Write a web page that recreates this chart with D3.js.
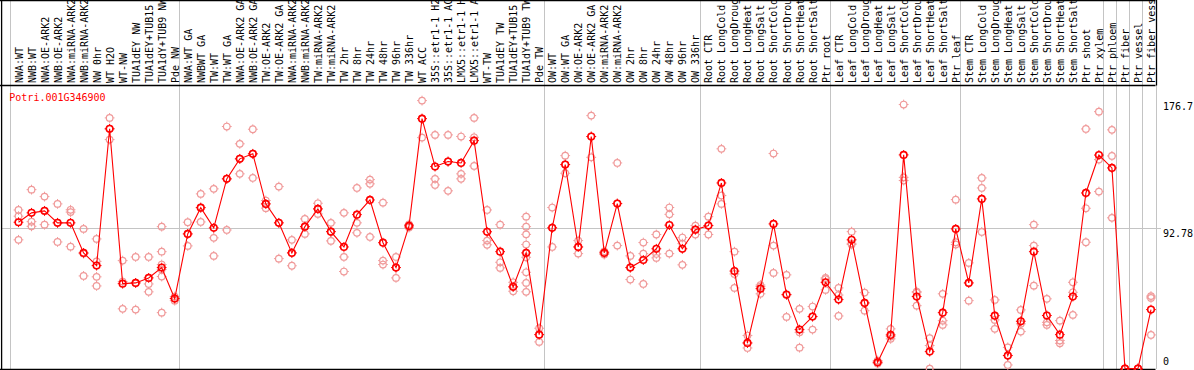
<!DOCTYPE html>
<html><head><meta charset="utf-8">
<script src="https://cdn.jsdelivr.net/npm/d3@7"></script>
<style>html,body{margin:0;padding:0;background:#fff;overflow:hidden}</style>
</head><body>
<svg id="chart" width="1194" height="370"></svg>
<script>
const geneId = "Potri.001G346900";

const categories = [
  "NWA:WT","NWB:WT","NWA:OE-ARK2","NWB:OE-ARK2","NWA:miRNA-ARK2","NWB:miRNA-ARK2","NW 0hr","WT H2O","WT-NW",
  "TUA1dEY NW","TUA1dEY+TUB15 NW","TUA1dY+TUB9 NW","Pde NW",
  "NWA:WT GA","NWBWT GA","TW:WT","TW:WT GA","NWA:OE-ARK2 GA","NWB:OE-ARK2 GA","TW:OE-ARK2","TW:OE-ARK2 GA",
  "NWA:miRNA-ARK2 GA","NWB:miRNA-ARK2 GA","TW:miRNA-ARK2","TW:miRNA-ARK2 GA",
  "TW 2hr","TW 8hr","TW 24hr","TW 48hr","TW 96hr","TW 336hr",
  "WT ACC","35S::etr1-1 H2O","35S::etr1-1 ACC","LMX5::etr1-1 H2O","LMX5::etr1-1 ACC",
  "WT-TW","TUA1dEY TW","TUA1dEY+TUB15 TW","TUA1dY+TUB9 TW","Pde TW",
  "OW:WT","OW:WT GA","OW:OE-ARK2","OW:OE-ARK2 GA","OW:miRNA-ARK2","OW:miRNA-ARK2 GA",
  "OW 2hr","OW 8hr","OW 24hr","OW 48hr","OW 96hr","OW 336hr",
  "Root CTR","Root LongCold","Root LongDrought","Root LongHeat","Root LongSalt","Root ShortCold","Root ShortDrought","Root ShortHeat","Root ShortSalt","Ptr root",
  "Leaf CTR","Leaf LongCold","Leaf LongDrought","Leaf LongHeat","Leaf LongSalt","Leaf ShortCold","Leaf ShortDrought","Leaf ShortHeat","Leaf ShortSalt","Ptr leaf",
  "Stem CTR","Stem LongCold","Stem LongDrought","Stem LongHeat","Stem LongSalt","Stem ShortCold","Stem ShortDrought","Stem ShortHeat","Stem ShortSalt",
  "Ptr shoot","Ptr xylem","Ptr phloem","Ptr fiber","Ptr vessel","Ptr fiber vessel"
];

const means = [
  96.5,102.7,104.0,96.1,96.1,76.3,67.9,158.1,56.0,
  56.5,59.8,66.6,46.2,
  88.8,106.1,92.8,125.1,138.3,141.6,108.6,96.1,
  76.3,93.6,105.3,90.3,
  80.2,101.5,111.2,83.0,66.6,94.1,
  164.8,133.2,136.5,135.6,150.3,
  90.2,77.1,53.9,76.3,22.4,
  92.8,134.5,80.2,153.0,76.3,108.8,
  66.6,71.6,79.0,94.6,79.0,91.6,
  94.3,122.4,64.3,16.9,52.7,95.4,48.8,25.7,34.3,56.9,
  45.5,84.9,43.3,4.2,22.2,140.9,47.5,11.2,36.9,92.1,
  56.5,111.9,34.9,8.6,31.2,77.1,35.0,22.4,47.5,
  115.8,140.8,132.3,0,0,38.9
];

const replicates = [
  [104.6,100.5,84.9],[118.0,96.9,93.8],[113.4,103.8,94.9],[108.6,96.1,83.5],[104.7,103.2,80.4],[92.1,75.8,61.1],[85.5,70.7,60.5,54.5],[165.3,158.1,151.0],[71.2,57.4,39.4],
  [73.6,56.5,38.9],[73.6,55.8,50.6],[93.6,77.1,68.6,65.3,60.7,36.9],[47.5,46.2,44.8],
  [96.5,88.8,80.9],[115.2,106.2,96.7],[118.5,86.2,74.3],[159.6,125.1,91.4],[148.2,138.3,128.4],[157.8,141.6,125.7],[110.8,108.6,105.8],[120.0,96.1,72.5],
  [84.9,76.3,67.8],[98.7,93.6,88.8],[109.0,105.3,102.0],[96.1,90.3,84.2],
  [102.7,73.6,64.0],[119.1,96.1,89.5],[124.6,121.8,86.8],[109.4,71.2,68.6],[73.6,66.6,59.8],[95.0,94.1,93.0],
  [176.7,164.8,152.3],[154.1,125.1,121.1],[154.1,136.5,117.2],[153.0,128.4,125.1],[165.3,152.5,133.6],
  [104.6,84.4,81.6],[94.9,70.1,66.4],[56.9,53.9,51.0],[100.2,93.6,88.5,81.8,73.4,63.5,56.5,50.6],[26.6,22.4,17.6],
  [106.2,92.8,80.2],[140.4,134.5,128.8],[84.4,80.2,75.8],[166.8,153.0,139.3],[77.3,76.3,75.2],[135.6,108.8,81.1],
  [74.3,66.6,58.7],[83.1,75.8,55.8],[88.4,75.6,73.0],[106.2,101.7,75.8],[86.4,82.4,68.4],[94.3,91.6,88.4],
  [100.2,94.3,88.4],[144.9,114.1,108.6],[77.1,62.4,53.2],[21.8,16.9,13.6],[55.1,54.1,49.3],[141.8,81.1,63.1],[61.8,48.6,34.1],[39.4,23.9,13.8],[40.9,34.3,25.7],[59.8,59.0,51.9],
  [53.2,48.5,34.7],[90.3,82.6,81.8],[50.1,43.3,38.2],[5.3,4.2,3.3],[26.2,21.1,19.6],[174.1,126.1,124.0],[50.8,50.1,41.5],[20.0,15.2,0],[49.3,31.6,28.8],[111.4,83.3,81.8],
  [69.7,56.5,44.8],[125.7,119.1,90.1],[45.3,32.1,26.2],[14.0,8.6,2.4],[38.7,29.5,24.4],[94.9,81.1,54.7],[46.0,30.5,28.8],[31.6,18.5,16.7],[56.9,50.3,35.4],
  [158.0,105.7,83.3],[169.4,137.8,116.7],[157.4,140.2,99.4],[0,0,0],[0,0,0],[47.8,46.6,22.2]
];

const axisTicks = [176.7, 92.78, 0];
const gridValues = [92.78];
const groupStarts = ["NWA:WT","NWA:WT GA","OW:WT","Root CTR","Leaf CTR","Stem CTR","Ptr phloem","Ptr fiber","Ptr vessel","Ptr fiber vessel"];

const MEAN_COLOR = "#ff0000";
const REP_COLOR = "#f09a9a";
const GRID_COLOR = "#c4c4c4";
const FONT = "'DejaVu Sans Mono', 'Liberation Mono', monospace";

const svg = d3.select("#chart");
svg.append("rect").attr("width",1194).attr("height",370).attr("fill","#fff");

const x = d3.scaleBand().domain(categories).range([10, 1155.5]).paddingInner(0).paddingOuter(0);
const px = c => x(c) + 8.5;
const y = d3.scaleLinear().domain([0, 176.7]).range([368.6, 100.6]);
const plotRight = x.range()[1];

// vertical group separators (full height, through labels)
const sepX = groupStarts.map(c => x(c)).concat([plotRight]);
svg.append("g").selectAll("line").data(sepX).join("line")
  .attr("x1", d => Math.round(d) + 0.5).attr("x2", d => Math.round(d) + 0.5)
  .attr("y1", 0).attr("y2", 369)
  .attr("stroke", GRID_COLOR).attr("stroke-width", 1);

// horizontal grid line
svg.append("g").selectAll("line").data(gridValues).join("line")
  .attr("x1", 2).attr("x2", 1161)
  .attr("y1", d => Math.round(y(d)) + 0.5).attr("y2", d => Math.round(y(d)) + 0.5)
  .attr("stroke", GRID_COLOR).attr("stroke-width", 1);

// black frame lines
const frame = svg.append("g").attr("stroke", "#000").attr("stroke-width", 1.3);
frame.append("line").attr("x1", 0).attr("x2", plotRight).attr("y1", 0.6).attr("y2", 0.6);
frame.append("line").attr("x1", 0).attr("x2", plotRight).attr("y1", 85.5).attr("y2", 85.5);
frame.append("line").attr("x1", 0).attr("x2", plotRight).attr("y1", 369.3).attr("y2", 369.3);
frame.append("line").attr("x1", 1.6).attr("x2", 1.6).attr("y1", 0).attr("y2", 370);
frame.append("line").attr("x1", Math.round(plotRight)+0.5).attr("x2", Math.round(plotRight)+0.5).attr("y1", 0).attr("y2", 85.5);

// category labels (rotated, truncated to 14 characters)
svg.append("g").selectAll("text").data(categories).join("text")
  .attr("transform", c => `translate(${px(c) + 4},83) rotate(-90)`)
  .attr("font-family", FONT).attr("font-size", 10).attr("fill", "#000")
  .text(c => c.slice(0, 14).trimEnd());

// title
svg.append("text").attr("x", 9.3).attr("y", 100.7)
  .attr("font-family", FONT).attr("font-size", 10).attr("fill", MEAN_COLOR)
  .text(geneId);

// right axis labels
svg.append("g").selectAll("text").data(axisTicks).join("text")
  .attr("x", 1163)
  .attr("y", d => d === 0 ? y(d) - 3.6 : y(d) + 9.6)
  .attr("font-family", FONT).attr("font-size", 10).attr("fill", "#000")
  .text(d => d);

// marker drawing
function drawMarker(g, cx, cy, color, sw) {
  const r = 3.3, t = 1.6;
  g.append("circle").attr("cx", cx).attr("cy", cy).attr("r", r)
    .attr("fill", "none").attr("stroke", color).attr("stroke-width", sw);
  g.append("path")
    .attr("d", `M${cx},${cy - r - t}v${t}M${cx},${cy + r}v${t}M${cx - r - t},${cy}h${t}M${cx + r},${cy}h${t}`)
    .attr("stroke", color).attr("stroke-width", 1).attr("fill", "none");
}

// replicates
const repG = svg.append("g");
categories.forEach((c, i) => {
  replicates[i].forEach(v => drawMarker(repG, px(c), y(v), REP_COLOR, 1.2));
});

// mean line
const line = d3.line().x((d, i) => px(categories[i])).y(d => y(d));
svg.append("path").datum(means).attr("d", line)
  .attr("fill", "none").attr("stroke", MEAN_COLOR).attr("stroke-width", 1.1);

// mean markers
const meanG = svg.append("g");
categories.forEach((c, i) => drawMarker(meanG, px(c), y(means[i]), MEAN_COLOR, 1.6));
</script>
</body></html>
